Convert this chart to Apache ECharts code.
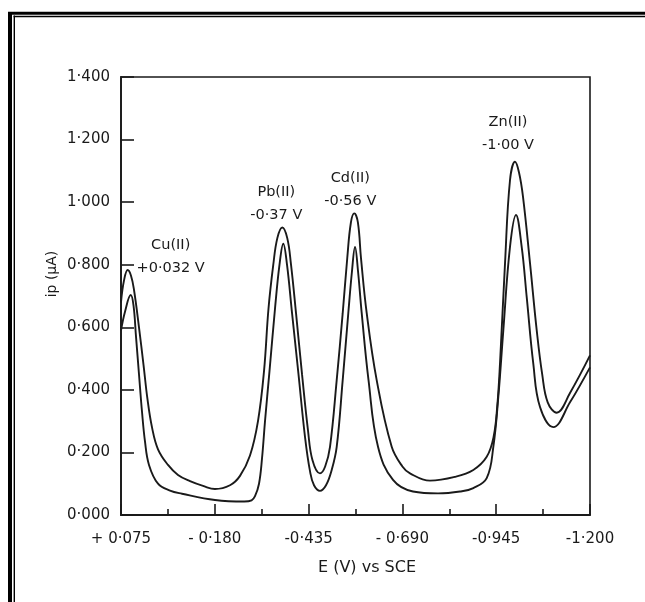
<!DOCTYPE html>
<html>
<head>
<meta charset="utf-8">
<script src="https://cdn.jsdelivr.net/npm/echarts@6/dist/echarts.min.js"></script>
<style>
  html, body { margin: 0; padding: 0; background: #ffffff; }
  #chart { width: 645px; height: 602px; }
</style>
</head>
<body>
<div id="chart"></div>
<script>
// ---- Data (E in volts vs SCE, ip in microamps) ----
const xTickLabels = ['+ 0·075', '- 0·180', '-0·435', '- 0·690', '-0·945', '-1·200'];
const yTickLabels = ['0·000', '0·200', '0·400', '0·600', '0·800', '1·000', '1·200', '1·400'];

const upperE = [0.075, 0.0668, 0.0568, 0.0478, 0.0397, 0.0261, 0.0138, 0.0030, -0.0093, -0.0256,
  -0.0528, -0.0800, -0.1126, -0.1500, -0.1805, -0.2213, -0.2485, -0.2757, -0.2974, -0.3138,
  -0.3260, -0.3390, -0.3500, -0.3635, -0.3770, -0.3872, -0.4008, -0.4171, -0.4334, -0.4456,
  -0.4660, -0.4800, -0.4932, -0.5114, -0.5277, -0.5400, -0.5500, -0.5593, -0.5690, -0.5775,
  -0.5930, -0.6201, -0.6609, -0.6900, -0.7107, -0.7650, -0.8330, -0.8828, -0.9192, -0.9380,
  -0.9480, -0.9554, -0.9690, -0.9825, -0.9961, -1.0070, -1.0179, -1.0369, -1.0551, -1.0700,
  -1.0850, -1.1095, -1.1456, -1.2000];
const upperI = [0.680, 0.750, 0.783, 0.765, 0.720, 0.600, 0.480, 0.370, 0.280, 0.210,
  0.160, 0.128, 0.108, 0.092, 0.083, 0.095, 0.125, 0.190, 0.300, 0.460,
  0.660, 0.800, 0.885, 0.919, 0.885, 0.800, 0.645, 0.450, 0.270, 0.175,
  0.133, 0.155, 0.218, 0.431, 0.645, 0.820, 0.935, 0.964, 0.935, 0.820,
  0.645, 0.431, 0.218, 0.155, 0.133, 0.110, 0.122, 0.144, 0.186, 0.250,
  0.350, 0.486, 0.805, 1.070, 1.129, 1.095, 1.017, 0.805, 0.591, 0.450,
  0.360, 0.327, 0.390, 0.510];

const lowerE = [0.075, 0.0641, 0.0486, 0.0410, 0.0342, 0.0261, 0.0179, 0.0098, -0.0011, -0.0256,
  -0.0582, -0.0908, -0.1805, -0.2600, -0.2800, -0.2893, -0.3002, -0.3083, -0.3165, -0.3287,
  -0.3437, -0.3559, -0.3662, -0.3763, -0.3900, -0.4075, -0.4252, -0.4388, -0.4497, -0.4660,
  -0.4823, -0.4978, -0.5114, -0.5277, -0.5429, -0.5530, -0.5612, -0.5693, -0.5794, -0.5979,
  -0.6237, -0.6645, -0.7188, -0.7868, -0.8466, -0.8828, -0.9192, -0.9372, -0.9508, -0.9644,
  -0.9825, -0.9988, -1.0143, -1.0279, -1.0459, -1.0641, -1.1003, -1.1456, -1.2000];
const lowerI = [0.590, 0.650, 0.703, 0.670, 0.570, 0.450, 0.330, 0.235, 0.160, 0.100,
  0.078, 0.068, 0.048, 0.043, 0.047, 0.060, 0.100, 0.180, 0.300, 0.460,
  0.660, 0.800, 0.867, 0.800, 0.645, 0.450, 0.250, 0.140, 0.095, 0.077,
  0.095, 0.144, 0.218, 0.431, 0.645, 0.780, 0.857, 0.780, 0.645, 0.431,
  0.218, 0.112, 0.075, 0.069, 0.075, 0.086, 0.118, 0.218, 0.378, 0.591,
  0.857, 0.959, 0.857, 0.697, 0.483, 0.345, 0.281, 0.360, 0.472];

// Peak annotations: ion, peak potential text, and the E window that holds the peak
const peakIons = ['Cu(II)', 'Pb(II)', 'Cd(II)', 'Zn(II)'];
const peakPotentials = ['+0·032 V', '-0·37 V', '-0·56 V', '-1·00 V'];
const peakWindows = [[0.075, -0.1], [-0.3, -0.45], [-0.5, -0.65], [-0.9, -1.1]];

// ---- Build ----
const E_START = 0.075;          // axis origin (left end)
const STEP = 0.255;             // tick spacing in volts
const toAxis = e => +(E_START - e).toFixed(5);   // distance along the (negative-going) potential axis

const upperData = upperE.map((e, k) => [toAxis(e), upperI[k]]);
const lowerData = lowerE.map((e, k) => [toAxis(e), lowerI[k]]);

const labelOffsets = [[43, -13], [-6, -24], [-4, -24], [-7, -28]];
const peakData = peakWindows.map((w, k) => {
  let best = null;
  upperE.forEach((e, j) => {
    if (e <= w[0] && e >= w[1] && (!best || upperI[j] > best[1])) best = [e, upperI[j]];
  });
  return {
    value: [toAxis(best[0]), best[1]],
    label: { offset: labelOffsets[k] }
  };
});

const FONT = 'DejaVu Sans';
const INK = '#1a1a1a';

const chart = echarts.init(document.getElementById('chart'), null, { renderer: 'canvas' });
chart.setOption({
  backgroundColor: '#ffffff',
  animation: false,
  grid: {
    left: 121, right: 55, top: 77, bottom: 87,
    show: true, borderColor: INK, borderWidth: 1.6, backgroundColor: 'transparent'
  },
  xAxis: {
    type: 'value',
    min: 0, max: 1.275, interval: STEP,
    axisLine: { show: true, onZero: false, lineStyle: { color: INK, width: 1.8 } },
    axisTick: { show: true, inside: true, length: 11, lineStyle: { color: INK, width: 1.6 } },
    minorTick: { show: true, splitNumber: 2, length: 6, lineStyle: { color: INK, width: 1.6 } },
    splitLine: { show: false },
    minorSplitLine: { show: false },
    axisLabel: {
      margin: 17,
      color: INK, fontFamily: FONT, fontSize: 15,
      showMinLabel: true, showMaxLabel: true,
      formatter: v => xTickLabels[Math.round(v / STEP)] || ''
    }
  },
  yAxis: {
    type: 'value',
    min: 0, max: 1.4, interval: 0.2,
    axisLine: { show: true, lineStyle: { color: INK, width: 1.8 } },
    axisTick: { show: true, inside: true, length: 13, lineStyle: { color: INK, width: 1.6 } },
    splitLine: { show: false },
    axisLabel: {
      margin: 11,
      color: INK, fontFamily: FONT, fontSize: 15,
      showMinLabel: true, showMaxLabel: true,
      formatter: v => yTickLabels[Math.round(v / 0.2)] || ''
    }
  },
  series: [
    {
      name: 'upper', type: 'line', data: upperData,
      showSymbol: false, smooth: 0.4,
      lineStyle: { color: INK, width: 1.9 }
    },
    {
      name: 'lower', type: 'line', data: lowerData,
      showSymbol: false, smooth: 0.4,
      lineStyle: { color: INK, width: 1.9 }
    },
    {
      name: 'peaks', type: 'scatter', data: peakData,
      symbolSize: 0, silent: true,
      itemStyle: { opacity: 1, color: INK },
      label: {
        show: true, position: 'inside',
        color: INK, fontFamily: FONT, fontSize: 14.5, lineHeight: 23,
        align: 'center', verticalAlign: 'middle',
        formatter: p => peakIons[p.dataIndex] + '\n' + peakPotentials[p.dataIndex]
      }
    }
  ],
  graphic: [
    { type: 'line', shape: { x1: 10, y1: 12, x2: 10, y2: 602 }, style: { stroke: '#000', lineWidth: 4 } },
    { type: 'line', shape: { x1: 14.3, y1: 15.5, x2: 14.3, y2: 602 }, style: { stroke: '#000', lineWidth: 1.4 } },
    { type: 'line', shape: { x1: 8, y1: 13.3, x2: 645, y2: 13.3 }, style: { stroke: '#000', lineWidth: 3 } },
    { type: 'line', shape: { x1: 13.6, y1: 16.5, x2: 645, y2: 16.5 }, style: { stroke: '#000', lineWidth: 1.4 } },
    {
      type: 'text', x: 367, y: 568,
      style: { text: 'E (V) vs SCE', fill: INK, font: '16px "DejaVu Sans"', align: 'center', verticalAlign: 'middle' }
    },
    {
      type: 'text', x: 52, y: 274, rotation: Math.PI / 2,
      style: { text: 'ip (μA)', fill: INK, font: '14px "DejaVu Sans"', align: 'center', verticalAlign: 'middle' }
    }
  ]
});
</script>
</body>
</html>
